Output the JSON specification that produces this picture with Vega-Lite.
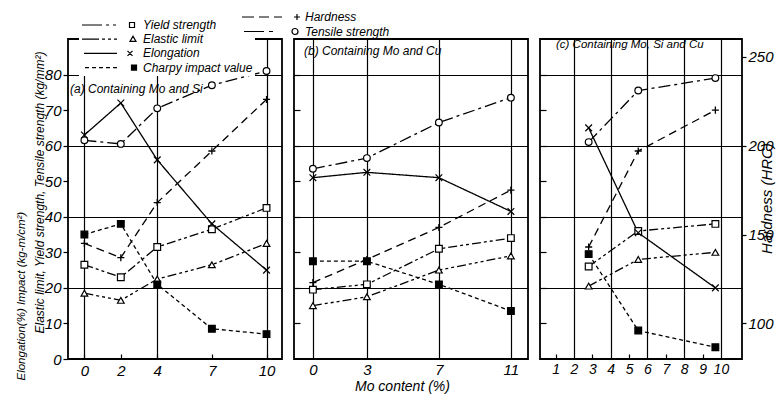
{
  "$schema": "https://vega.github.io/schema/vega-lite/v6.json",
  "background": "white",
  "padding": {"left": 14, "top": 8, "right": 2, "bottom": 2},
  "datasets": {
    "d": [
      {"panel": "a", "series": "Yield strength", "mo": 0, "value": 26.5},
      {"panel": "a", "series": "Yield strength", "mo": 2, "value": 23},
      {"panel": "a", "series": "Yield strength", "mo": 4, "value": 31.5},
      {"panel": "a", "series": "Yield strength", "mo": 7, "value": 36.5},
      {"panel": "a", "series": "Yield strength", "mo": 10, "value": 42.5},
      {"panel": "a", "series": "Elastic limit", "mo": 0, "value": 18.5},
      {"panel": "a", "series": "Elastic limit", "mo": 2, "value": 16.5},
      {"panel": "a", "series": "Elastic limit", "mo": 4, "value": 22.5},
      {"panel": "a", "series": "Elastic limit", "mo": 7, "value": 26.5},
      {"panel": "a", "series": "Elastic limit", "mo": 10, "value": 32.5},
      {"panel": "a", "series": "Elongation", "mo": 0, "value": 63},
      {"panel": "a", "series": "Elongation", "mo": 2, "value": 72},
      {"panel": "a", "series": "Elongation", "mo": 4, "value": 56},
      {"panel": "a", "series": "Elongation", "mo": 7, "value": 38},
      {"panel": "a", "series": "Elongation", "mo": 10, "value": 25},
      {"panel": "a", "series": "Charpy impact value", "mo": 0, "value": 35},
      {"panel": "a", "series": "Charpy impact value", "mo": 2, "value": 38},
      {"panel": "a", "series": "Charpy impact value", "mo": 4, "value": 21},
      {"panel": "a", "series": "Charpy impact value", "mo": 7, "value": 8.5},
      {"panel": "a", "series": "Charpy impact value", "mo": 10, "value": 7},
      {"panel": "a", "series": "Tensile strength", "mo": 0, "value": 61.5},
      {"panel": "a", "series": "Tensile strength", "mo": 2, "value": 60.5},
      {"panel": "a", "series": "Tensile strength", "mo": 4, "value": 70.5},
      {"panel": "a", "series": "Tensile strength", "mo": 7, "value": 77},
      {"panel": "a", "series": "Tensile strength", "mo": 10, "value": 81},
      {"panel": "a", "series": "Hardness", "mo": 0, "value": 145},
      {"panel": "a", "series": "Hardness", "mo": 2, "value": 137},
      {"panel": "a", "series": "Hardness", "mo": 4, "value": 168},
      {"panel": "a", "series": "Hardness", "mo": 7, "value": 197},
      {"panel": "a", "series": "Hardness", "mo": 10, "value": 226},
      {"panel": "b", "series": "Yield strength", "mo": 0, "value": 19.5},
      {"panel": "b", "series": "Yield strength", "mo": 3, "value": 21},
      {"panel": "b", "series": "Yield strength", "mo": 7, "value": 31},
      {"panel": "b", "series": "Yield strength", "mo": 11, "value": 34},
      {"panel": "b", "series": "Elastic limit", "mo": 0, "value": 15},
      {"panel": "b", "series": "Elastic limit", "mo": 3, "value": 17.5},
      {"panel": "b", "series": "Elastic limit", "mo": 7, "value": 25},
      {"panel": "b", "series": "Elastic limit", "mo": 11, "value": 29},
      {"panel": "b", "series": "Elongation", "mo": 0, "value": 51},
      {"panel": "b", "series": "Elongation", "mo": 3, "value": 52.5},
      {"panel": "b", "series": "Elongation", "mo": 7, "value": 51},
      {"panel": "b", "series": "Elongation", "mo": 11, "value": 41.5},
      {"panel": "b", "series": "Charpy impact value", "mo": 0, "value": 27.5},
      {"panel": "b", "series": "Charpy impact value", "mo": 3, "value": 27.5},
      {"panel": "b", "series": "Charpy impact value", "mo": 7, "value": 21},
      {"panel": "b", "series": "Charpy impact value", "mo": 11, "value": 13.5},
      {"panel": "b", "series": "Tensile strength", "mo": 0, "value": 53.5},
      {"panel": "b", "series": "Tensile strength", "mo": 3, "value": 56.5},
      {"panel": "b", "series": "Tensile strength", "mo": 7, "value": 66.5},
      {"panel": "b", "series": "Tensile strength", "mo": 11, "value": 73.5},
      {"panel": "b", "series": "Hardness", "mo": 0, "value": 123},
      {"panel": "b", "series": "Hardness", "mo": 3, "value": 136},
      {"panel": "b", "series": "Hardness", "mo": 7, "value": 154},
      {"panel": "b", "series": "Hardness", "mo": 11, "value": 175},
      {"panel": "c", "series": "Yield strength", "mo": 2.8, "value": 26},
      {"panel": "c", "series": "Yield strength", "mo": 5.5, "value": 36},
      {"panel": "c", "series": "Yield strength", "mo": 9.7, "value": 38},
      {"panel": "c", "series": "Elastic limit", "mo": 2.8, "value": 20.5},
      {"panel": "c", "series": "Elastic limit", "mo": 5.5, "value": 28},
      {"panel": "c", "series": "Elastic limit", "mo": 9.7, "value": 30},
      {"panel": "c", "series": "Elongation", "mo": 2.8, "value": 65},
      {"panel": "c", "series": "Elongation", "mo": 5.5, "value": 35.5},
      {"panel": "c", "series": "Elongation", "mo": 9.7, "value": 20},
      {"panel": "c", "series": "Charpy impact value", "mo": 2.8, "value": 29.5},
      {"panel": "c", "series": "Charpy impact value", "mo": 5.5, "value": 8},
      {"panel": "c", "series": "Charpy impact value", "mo": 9.7, "value": 3.3},
      {"panel": "c", "series": "Tensile strength", "mo": 2.8, "value": 61},
      {"panel": "c", "series": "Tensile strength", "mo": 5.5, "value": 75.5},
      {"panel": "c", "series": "Tensile strength", "mo": 9.7, "value": 79},
      {"panel": "c", "series": "Hardness", "mo": 2.8, "value": 143},
      {"panel": "c", "series": "Hardness", "mo": 5.5, "value": 197},
      {"panel": "c", "series": "Hardness", "mo": 9.7, "value": 220}
    ]
  },
  "data": {"name": "d"},
  "spacing": 12,
  "bounds": "flush",
  "hconcat": [
    {
      "width": 214,
      "height": 320,
      "title": {"text": "(a) Containing Mo and Si", "anchor": "start", "frame": "group", "baseline": "middle", "offset": -92, "dx": 2},
      "transform": [{"filter": "datum.panel == 'a'"}],
      "layer": [
        {
          "transform": [{"filter": "datum.series != 'Hardness'"}],
          "encoding": {
            "x": {"field": "mo", "type": "quantitative", "scale": {"domain": [-0.9, 10.85], "nice": false, "zero": false},
              "axis": {"values": [0, 2, 4, 7, 10], "title": null, "tickSize": -5, "labelPadding": 9, "labelOverlap": false,
                "gridOpacity": {"condition": {"test": "datum.value == 2 || datum.value == 7", "value": 0}, "value": 1}}},
            "y": {"field": "value", "type": "quantitative", "scale": {"domain": [0, 90], "nice": false},
              "axis": {"values": [0, 10, 20, 30, 40, 50, 60, 70, 80], "tickSize": 5, "labelPadding": 2,
                "gridOpacity": {"condition": {"test": "datum.value % 20 == 0 && datum.value > 0", "value": 1}, "value": 0},
                "title": "Elastic limit, Yield strength, Tensile strength (kg/mm²)", "titleX": -29, "titleY": 294, "titleAngle": 270,
                "titleAlign": "left", "titleBaseline": "middle", "titleFontSize": 12}}
          },
          "layer": [
            {"mark": {"type": "line", "color": "black", "strokeWidth": 1.3},
              "encoding": {"strokeDash": {"field": "series", "type": "nominal", "legend": null,
                "scale": {"domain": ["Yield strength", "Elastic limit", "Elongation", "Charpy impact value", "Tensile strength"],
                  "range": [[9, 3, 3, 3, 3, 3], [9, 3, 3, 3, 3, 3, 3, 3], [1, 0], [4, 3], [12, 4, 3, 4]]}}}},
            {"mark": {"type": "point", "filled": true, "stroke": "black", "strokeWidth": 1.2, "size": 45, "opacity": 1},
              "encoding": {
                "shape": {"field": "series", "type": "nominal", "legend": null,
                  "scale": {"domain": ["Yield strength", "Elastic limit", "Elongation", "Charpy impact value", "Tensile strength"],
                    "range": ["square", "triangle-up", "M-1,-1L1,1M-1,1L1,-1", "square", "circle"]}},
                "fill": {"field": "series", "type": "nominal", "legend": null,
                  "scale": {"domain": ["Yield strength", "Elastic limit", "Elongation", "Charpy impact value", "Tensile strength"],
                    "range": ["white", "white", "white", "black", "white"]}}}}
          ]
        },
        {
          "transform": [{"filter": "datum.series == 'Hardness'"}],
          "encoding": {
            "x": {"field": "mo", "type": "quantitative"},
            "y": {"field": "value", "type": "quantitative", "scale": {"domain": [80, 260], "nice": false, "zero": false},
              "axis": {"orient": "left", "labels": false, "ticks": false, "grid": false,
                "title": "Elongation(%)  Impact (kg-m/cm²)", "titleX": -47, "titleY": 341, "titleAngle": 270,
                "titleAlign": "left", "titleBaseline": "middle", "titleFontSize": 11.5}}
          },
          "layer": [
            {"mark": {"type": "line", "color": "black", "strokeWidth": 1.3, "strokeDash": [8, 5]}},
            {"mark": {"type": "point", "shape": "M-1,0L1,0M0,-1L0,1", "size": 50, "stroke": "black", "strokeWidth": 1.3, "opacity": 1}}
          ]
        },
        {
          "transform": [{"filter": "datum.series == 'Yield strength' || datum.series == 'Elastic limit' || datum.series == 'Elongation' || datum.series == 'Charpy impact value'"}],
          "mark": {"type": "point", "opacity": 0, "color": "black", "filled": false},
          "encoding": {
            "shape": {"field": "series", "type": "nominal",
              "scale": {"domain": ["Yield strength", "Elastic limit", "Elongation", "Charpy impact value"],
                "range": [
                  "M-1,0L3,0M3.8,0L4.4,0M5.2,0L5.8,0M8.5,-0.5L9.5,-0.5L9.5,0.5L8.5,0.5Z",
                  "M-1,0L2.4,0M3,0L3.6,0M4.2,0L4.8,0M5.4,0L6,0M8.6,0.45L9.8,0.45L9.2,-0.6Z",
                  "M-0.6,0L6,0M8.1,-0.5L9.1,0.5M8.1,0.5L9.1,-0.5",
                  "M-0.4,0L0.4,0M1,0L1.8,0M2.4,0L3.2,0M3.8,0L4.6,0M5.2,0L6,0M8.9,-0.5L9.9,-0.5L9.9,0.5L8.9,0.5ZM8.9,-0.25L9.9,-0.25M8.9,0L9.9,0M8.9,0.25L9.9,0.25"
                ]},
              "legend": {"orient": "none", "legendX": 11, "legendY": -22, "title": null, "symbolSize": 100,
                "symbolStrokeWidth": 1.2, "symbolStrokeColor": "black", "symbolOpacity": 1, "symbolFillColor": "transparent",
                "labelFontSize": 12, "labelOffset": 50, "rowPadding": 2.2, "padding": 2, "fillColor": "white", "zindex": 1}}
          }
        },
        {
          "transform": [{"filter": "datum.series == 'Hardness' || datum.series == 'Tensile strength'"}],
          "mark": {"type": "point", "opacity": 0, "color": "black", "filled": false},
          "encoding": {
            "shape": {"field": "series", "type": "nominal",
              "scale": {"domain": ["Hardness", "Tensile strength"],
                "range": [
                  "M-1,0L1.4,0M2.4,0L4.4,0M5.4,0L7,0M9.4,0L10.6,0M10,-0.6L10,0.6",
                  "M-0.6,0L3.4,0M4.4,0L5.2,0M10.2,0A0.6,0.6 0 1,0 9,0A0.6,0.6 0 1,0 10.2,0"
                ]},
              "legend": {"orient": "none", "legendX": 171, "legendY": -30, "title": null, "symbolSize": 100,
                "symbolStrokeWidth": 1.2, "symbolStrokeColor": "black", "symbolOpacity": 1, "symbolFillColor": "transparent",
                "labelFontSize": 12, "labelOffset": 52, "rowPadding": 2.5, "padding": 2, "zindex": 1}}
          }
        }
      ],
      "resolve": {"scale": {"y": "independent", "shape": "independent"}}
    },
    {
      "width": 234,
      "height": 320,
      "title": {"text": "(b) Containing Mo and Cu", "anchor": "start", "frame": "group", "baseline": "middle", "offset": -24, "dx": 10},
      "transform": [{"filter": "datum.panel == 'b'"}],
      "layer": [
        {
          "transform": [{"filter": "datum.series != 'Hardness'"}],
          "encoding": {
            "x": {"field": "mo", "type": "quantitative", "scale": {"domain": [-1.05, 11.95], "nice": false, "zero": false},
              "axis": {"values": [0, 3, 7, 11], "ticks": false, "labelPadding": 3, "labelOverlap": false,
                "title": "Mo content (%)", "titleX": 108, "titleY": 27, "titleBaseline": "middle", "titleFontSize": 14}},
            "y": {"field": "value", "type": "quantitative", "scale": {"domain": [0, 90], "nice": false},
              "axis": {"values": [10, 20, 30, 40, 50, 60, 70, 80], "labels": false, "tickSize": -6, "title": null,
                "gridOpacity": {"condition": {"test": "datum.value % 20 == 0", "value": 1}, "value": 0}}}
          },
          "layer": [
            {"mark": {"type": "line", "color": "black", "strokeWidth": 1.3},
              "encoding": {"strokeDash": {"field": "series", "type": "nominal", "legend": null,
                "scale": {"domain": ["Yield strength", "Elastic limit", "Elongation", "Charpy impact value", "Tensile strength"],
                  "range": [[9, 3, 3, 3, 3, 3], [9, 3, 3, 3, 3, 3, 3, 3], [1, 0], [4, 3], [12, 4, 3, 4]]}}}},
            {"mark": {"type": "point", "filled": true, "stroke": "black", "strokeWidth": 1.2, "size": 45, "opacity": 1},
              "encoding": {
                "shape": {"field": "series", "type": "nominal", "legend": null,
                  "scale": {"domain": ["Yield strength", "Elastic limit", "Elongation", "Charpy impact value", "Tensile strength"],
                    "range": ["square", "triangle-up", "M-1,-1L1,1M-1,1L1,-1", "square", "circle"]}},
                "fill": {"field": "series", "type": "nominal", "legend": null,
                  "scale": {"domain": ["Yield strength", "Elastic limit", "Elongation", "Charpy impact value", "Tensile strength"],
                    "range": ["white", "white", "white", "black", "white"]}}}}
          ]
        },
        {
          "transform": [{"filter": "datum.series == 'Hardness'"}],
          "encoding": {
            "x": {"field": "mo", "type": "quantitative"},
            "y": {"field": "value", "type": "quantitative", "scale": {"domain": [80, 260], "nice": false, "zero": false}, "axis": null}
          },
          "layer": [
            {"mark": {"type": "line", "color": "black", "strokeWidth": 1.3, "strokeDash": [8, 5]}},
            {"mark": {"type": "point", "shape": "M-1,0L1,0M0,-1L0,1", "size": 50, "stroke": "black", "strokeWidth": 1.3, "opacity": 1}}
          ]
        }
      ],
      "resolve": {"scale": {"y": "independent"}}
    },
    {
      "width": 202,
      "height": 320,
      "title": {"text": "(c) Containing Mo, Si and Cu", "anchor": "start", "frame": "group", "baseline": "middle", "offset": -17, "dx": 16, "fontSize": 11.5},
      "transform": [{"filter": "datum.panel == 'c'"}],
      "layer": [
        {
          "transform": [{"filter": "datum.series != 'Hardness'"}],
          "encoding": {
            "x": {"field": "mo", "type": "quantitative", "scale": {"domain": [0.15, 11.15], "nice": false, "zero": false},
              "axis": {"orient": "bottom", "values": [1, 3, 5, 7, 9], "title": null, "tickSize": -5, "labelPadding": 8, "labelOverlap": false,
                "labelFontSize": 14, "grid": false}},
            "y": {"field": "value", "type": "quantitative", "scale": {"domain": [0, 90], "nice": false},
              "axis": {"values": [10, 20, 30, 40, 50, 60, 70, 80], "labels": false, "tickSize": -6, "title": null,
                "gridOpacity": {"condition": {"test": "datum.value % 20 == 0", "value": 1}, "value": 0}}}
          },
          "layer": [
            {"mark": {"type": "line", "color": "black", "strokeWidth": 1.3},
              "encoding": {"strokeDash": {"field": "series", "type": "nominal", "legend": null,
                "scale": {"domain": ["Yield strength", "Elastic limit", "Elongation", "Charpy impact value", "Tensile strength"],
                  "range": [[9, 3, 3, 3, 3, 3], [9, 3, 3, 3, 3, 3, 3, 3], [1, 0], [4, 3], [12, 4, 3, 4]]}}}},
            {"mark": {"type": "point", "filled": true, "stroke": "black", "strokeWidth": 1.2, "size": 45, "opacity": 1},
              "encoding": {
                "shape": {"field": "series", "type": "nominal", "legend": null,
                  "scale": {"domain": ["Yield strength", "Elastic limit", "Elongation", "Charpy impact value", "Tensile strength"],
                    "range": ["square", "triangle-up", "M-1,-1L1,1M-1,1L1,-1", "square", "circle"]}},
                "fill": {"field": "series", "type": "nominal", "legend": null,
                  "scale": {"domain": ["Yield strength", "Elastic limit", "Elongation", "Charpy impact value", "Tensile strength"],
                    "range": ["white", "white", "white", "black", "white"]}}}}
          ]
        },
        {
          "transform": [{"filter": "datum.series == 'Hardness'"}],
          "encoding": {
            "x": {"field": "mo", "type": "quantitative", "scale": {"domain": [0.15, 11.15], "nice": false, "zero": false},
              "axis": {"orient": "bottom", "values": [2, 4, 6, 8, 10], "title": null, "ticks": false, "labelPadding": 3, "labelOverlap": false,
                "labelFontSize": 14, "grid": true}},
            "y": {"field": "value", "type": "quantitative", "scale": {"domain": [80, 260], "nice": false, "zero": false},
              "axis": {"orient": "right", "values": [100, 150, 200, 250], "grid": false, "tickSize": 4, "labelPadding": 2,
                "title": "Hardness (HRC)", "titleAngle": 270, "titleX": 24, "titleY": 159, "titleAlign": "center",
                "titleBaseline": "middle", "titleFontSize": 15}}
          },
          "layer": [
            {"mark": {"type": "line", "color": "black", "strokeWidth": 1.3, "strokeDash": [8, 5]}},
            {"mark": {"type": "point", "shape": "M-1,0L1,0M0,-1L0,1", "size": 50, "stroke": "black", "strokeWidth": 1.3, "opacity": 1}}
          ]
        }
      ],
      "resolve": {"scale": {"y": "independent", "x": "independent"}}
    }
  ],
  "resolve": {"scale": {"shape": "independent", "fill": "independent", "strokeDash": "independent"}},
  "config": {
    "font": "Liberation Sans",
    "view": {"stroke": "black", "strokeWidth": 1.8},
    "axis": {"domain": false, "grid": true, "gridColor": "black", "gridWidth": 1.2, "tickColor": "black", "tickWidth": 1.2,
      "labelOverlap": false,
      "labelColor": "black", "labelFont": "Liberation Sans", "labelFontStyle": "italic", "labelFontSize": 15,
      "titleColor": "black", "titleFont": "Liberation Sans", "titleFontStyle": "italic", "titleFontWeight": "normal"},
    "legend": {"labelFont": "Liberation Sans", "labelFontStyle": "italic", "labelColor": "black"},
    "title": {"font": "Liberation Sans", "fontStyle": "italic", "fontWeight": "normal", "fontSize": 12, "color": "black"}
  }
}
